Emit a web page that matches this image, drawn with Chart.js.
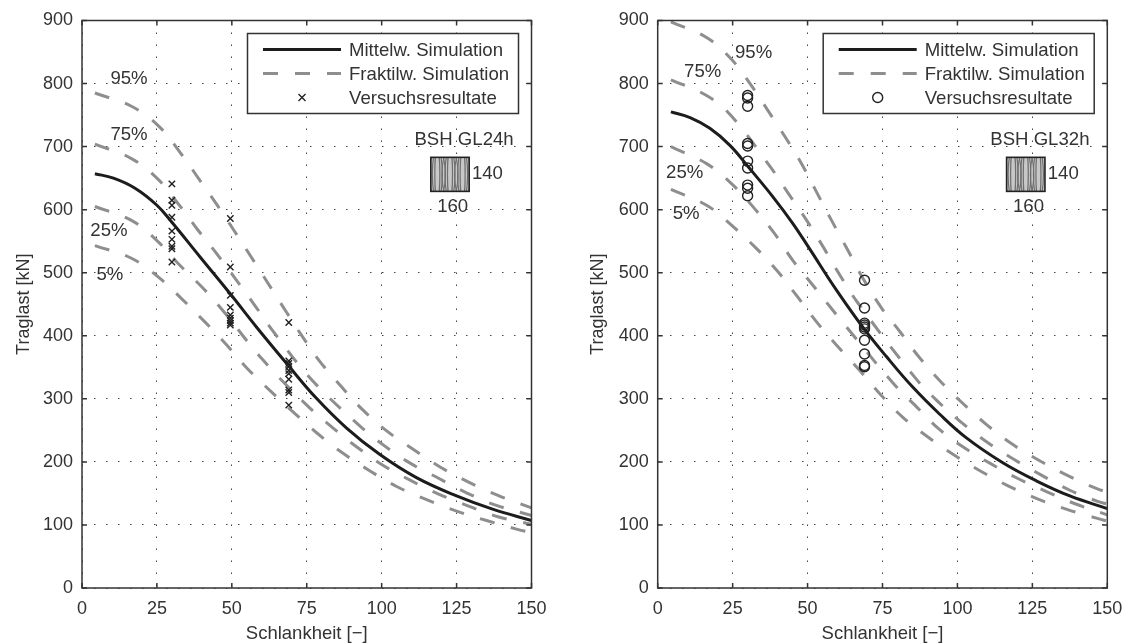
<!DOCTYPE html>
<html>
<head>
<meta charset="utf-8">
<style>
html, body { margin: 0; background: #fff; }
canvas { position: absolute; top: 0; }
</style>
<script src="https://cdn.jsdelivr.net/npm/chart.js@4/dist/chart.umd.js"></script>
</head>
<body>
<canvas id="gl24" width="562" height="643" style="left:0"></canvas>
<canvas id="gl32" width="562" height="643" style="left:562px"></canvas>
<script>
// values, [schlankheit, traglast]
var mean24 = [[4.3,657],[10.5,650],[17.7,634],[25,607],[30,580],[39.4,525],[49.4,467],[58.2,414],[69,352],[78,302],[88.2,254],[99.3,212],[111.6,175],[125,146],[137,125],[150,107]];
var f95_24 = [[4.3,785],[16.5,764],[25.5,733],[32.7,691],[39.4,646],[46,601],[55.5,532],[68.3,437],[73.8,397],[79.4,359],[86.6,319],[93.8,282],[102,248],[110.5,220],[119.5,192],[129,168],[138.8,147],[150,127]];
var f75_24 = [[4.3,704],[16.5,681],[25,650],[32,610],[38.8,567],[45,530],[57.7,448],[63.8,407],[76.5,331],[92.5,258],[100.5,227],[109.5,198],[119,174],[128.3,151],[138.3,131],[150,115]];
var f25_24 = [[4.3,605],[16.5,583],[25,551],[32,515],[40.5,475],[47,440],[60.5,361],[75,290],[83.2,256],[91.6,224],[100,196],[109.5,171],[119,149],[129,130],[138.8,113],[150,101]];
var f05_24 = [[4.3,543],[16.5,523],[25.5,493],[33.2,459],[41,422],[48,387],[55,349],[63.2,311],[70.5,279],[78.6,245],[87,214],[96,186],[105,161],[115,140],[125,122],[135,107],[145.3,93],[150,88]];
var tests24 = [[30,641],[30,615],[30,607],[30,588],[30,566],[30,553],[30,542],[30,538],[30,517],
  [49.5,586],[49.5,509],[49.5,464],[49.5,445],[49.5,433],[49.5,428],[49.5,424],[49.5,420],[49.5,417],
  [69,421],[69,360],[69,356],[69,351],[69,345],[69,340],[69,331],[69,314],[69,310],[69,290]];

var mean32 = [[4.4,755],[10.8,746],[17.4,729],[24.1,702],[30.2,668],[38.5,620],[45.1,578],[50.8,537],[59.7,472],[69,410],[76.3,367],[85,319],[94,276],[103,238],[115,199],[126.3,170],[137.5,146],[150,126]];
var f95_32 = [[4.4,898],[16.3,873],[24.3,840],[30.8,800],[36.8,757],[42.7,714],[48,673],[53.1,627],[58,583],[63.4,536],[68.5,491],[74.7,444],[80.9,406],[86.9,368],[93.9,330],[101.3,295],[109.5,260],[118,229],[127,203],[136.5,179],[146.3,158],[150,152]];
var f75_32 = [[4.4,806],[16.3,781],[24.3,750],[37.4,669],[43.4,627],[49.7,583],[54.7,545],[60.8,496],[66.8,452],[85.8,334],[93,298],[101,264],[109.7,232],[118.5,205],[128,179],[137.5,155],[147,137],[150,133]];
var f25_32 = [[4.4,700],[16.3,673],[24.7,641],[31.9,604],[39,562],[45,520],[51.3,483],[58.5,440],[64.7,404],[78.5,325],[85.8,290],[93.6,253],[101.8,224],[110.8,198],[120,174],[129.7,153],[139,134],[150,116]];
var f05_32 = [[4.4,632],[16.3,607],[24.7,575],[32.4,541],[39.7,504],[46.3,464],[53,422],[59.7,385],[67.4,345],[74.1,308],[81.7,271],[89.7,241],[98.5,212],[107.5,186],[116.9,162],[126.9,141],[137,124],[147,110],[150,106]];
var tests32 = [[30,781],[30,777],[30,764],[30,705],[30,701],[30,677],[30,666],[30,639],[30,634],[30,622],
  [69,488],[69,444],[69,420],[69,417],[69,414],[69,411],[69,393],[69,371],[69,353],[69,351]];

var fractileNames = ['95%', '75%', '25%', '5%'];
var labelPos24 = [[15.7,808],[15.7,719],[9,567],[9.3,497]];
var labelPos32 = [[32,849],[15,819],[9,658],[9.5,594]];
var legendLabels = ['Mittelw. Simulation', 'Fraktilw. Simulation', 'Versuchsresultate'];

var FONT = '18.6px "Liberation Sans"';
var TEXT = '#333333';
var GREY = '#8e8e8e';

function pts(a) {
  return a.map(function (p) { return { x: p[0], y: p[1] }; });
}

function curve(label, values, color, width, dash) {
  return {
    label: label, data: pts(values), showLine: true, borderColor: color, borderWidth: width,
    borderDash: dash, pointRadius: 0, tension: 0.4, fill: false
  };
}

function marker(ctx, style, x, y) {
  ctx.save();
  ctx.strokeStyle = '#222';
  ctx.lineWidth = 1.4;
  ctx.beginPath();
  if (style === 'circle') {
    ctx.arc(x, y, 5, 0, Math.PI * 2);
  } else {
    ctx.moveTo(x - 3.5, y - 3.5); ctx.lineTo(x + 3.5, y + 3.5);
    ctx.moveTo(x + 3.5, y - 3.5); ctx.lineTo(x - 3.5, y + 3.5);
  }
  ctx.stroke();
  ctx.restore();
}

// frame, inward ticks, legend box and the text notes
var decorations = {
  id: 'decorations',
  afterDatasetsDraw: function (chart, args, opts) {
    var ctx = chart.ctx, a = chart.chartArea, sx = chart.scales.x, sy = chart.scales.y;
    ctx.save();
    ctx.strokeStyle = TEXT;
    ctx.lineWidth = 1.5;
    ctx.strokeRect(a.left, a.top, a.right - a.left, a.bottom - a.top);
    ctx.beginPath();
    sx.ticks.forEach(function (t) {
      var x = sx.getPixelForValue(t.value);
      ctx.moveTo(x, a.top); ctx.lineTo(x, a.top + 5);
      ctx.moveTo(x, a.bottom); ctx.lineTo(x, a.bottom - 5);
    });
    sy.ticks.forEach(function (t) {
      var y = sy.getPixelForValue(t.value);
      ctx.moveTo(a.left, y); ctx.lineTo(a.left + 5, y);
      ctx.moveTo(a.right, y); ctx.lineTo(a.right - 5, y);
    });
    ctx.stroke();

    ctx.font = FONT;
    ctx.fillStyle = TEXT;
    ctx.textBaseline = 'middle';
    ctx.textAlign = 'center';
    fractileNames.forEach(function (n, i) {
      ctx.fillText(n, sx.getPixelForValue(opts.labelPos[i][0]), sy.getPixelForValue(opts.labelPos[i][1]));
    });
    ctx.fillText(opts.material, sx.getPixelForValue(127.5), sy.getPixelForValue(710));
    ctx.fillText('140', sx.getPixelForValue(135.3), sy.getPixelForValue(656));
    ctx.fillText('160', sx.getPixelForValue(123.7), sy.getPixelForValue(604));

    // cross section
    var x0 = sx.getPixelForValue(116.4), x1 = sx.getPixelForValue(129.2);
    var y0 = sy.getPixelForValue(683), y1 = sy.getPixelForValue(629);
    var mid = (y0 + y1) / 2, w = x1 - x0;
    ctx.fillStyle = '#c8c8c8';
    ctx.fillRect(x0, y0, w, y1 - y0);
    ctx.save();
    ctx.beginPath();
    ctx.rect(x0, y0, w, y1 - y0);
    ctx.clip();
    ctx.strokeStyle = '#6f6f6f';
    ctx.lineWidth = 1.2;
    [0.17, 0.5, 0.83].forEach(function (c) {
      [2.5, 5, 8].forEach(function (hw) {
        ctx.beginPath();
        ctx.ellipse(x0 + c * w, mid, hw, 26, 0, 0, Math.PI * 2);
        ctx.stroke();
      });
    });
    ctx.restore();
    ctx.strokeStyle = '#222';
    ctx.lineWidth = 1.6;
    ctx.strokeRect(x0, y0, w, y1 - y0);

    // legend
    var lx = a.left + 165.5, ly = 33.5;
    ctx.fillStyle = '#fff';
    ctx.fillRect(lx, ly, 271, 80);
    ctx.strokeStyle = TEXT;
    ctx.lineWidth = 1.5;
    ctx.strokeRect(lx, ly, 271, 80);
    ctx.lineWidth = 3;
    ctx.strokeStyle = '#1c1c1c';
    ctx.beginPath(); ctx.moveTo(lx + 15.5, ly + 16); ctx.lineTo(lx + 93.5, ly + 16); ctx.stroke();
    ctx.strokeStyle = GREY;
    ctx.setLineDash([15, 17]);
    ctx.beginPath(); ctx.moveTo(lx + 15.5, ly + 40); ctx.lineTo(lx + 93.5, ly + 40); ctx.stroke();
    ctx.setLineDash([]);
    marker(ctx, opts.style, lx + 54.5, ly + 64);
    ctx.fillStyle = TEXT;
    ctx.textAlign = 'left';
    legendLabels.forEach(function (t, i) {
      ctx.fillText(t, lx + 101.5, ly + 17 + i * 24);
    });
    ctx.restore();
  }
};

function makeChart(id, yWidth, rightPad, series, tests, opts) {
  var axisFont = { family: 'Liberation Sans', size: 18 };
  var titleFont = { family: 'Liberation Sans', size: 18.5 };
  var grid = { color: '#444444', lineWidth: 1, drawTicks: false };
  var border = { display: false, dash: [1.5, 10.5] };
  var testSet = {
    label: legendLabels[2], data: pts(tests), showLine: false, pointStyle: opts.style === 'circle' ? 'circle' : 'crossRot',
    pointRadius: opts.style === 'circle' ? 5 : 4.5, pointBorderColor: '#222', pointBackgroundColor: 'transparent', pointBorderWidth: 1.4
  };
  return new Chart(document.getElementById(id), {
    type: 'scatter',
    data: {
      datasets: [
        testSet,
        curve(legendLabels[0], series[0], '#1c1c1c', 3, []),
        curve(legendLabels[1], series[1], GREY, 3, [15, 17]),
        curve(legendLabels[1], series[2], GREY, 3, [15, 17]),
        curve(legendLabels[1], series[3], GREY, 3, [15, 17]),
        curve(legendLabels[1], series[4], GREY, 3, [15, 17])
      ]
    },
    plugins: [decorations],
    options: {
      responsive: false,
      animation: false,
      layout: { padding: { top: 20.5, right: rightPad, left: 0, bottom: 0 } },
      plugins: {
        legend: { display: false },
        tooltip: { enabled: false },
        title: { display: false },
        decorations: opts
      },
      scales: {
        x: {
          type: 'linear', min: 0, max: 150,
          afterFit: function (s) { s.height = 55; s.paddingLeft = 0; s.paddingRight = 0; },
          grid: grid, border: border,
          ticks: { stepSize: 25, padding: 10, maxRotation: 0, color: TEXT, font: axisFont },
          title: { display: true, text: 'Schlankheit [\u2212]', color: TEXT, font: titleFont, padding: { top: 0, bottom: -2 } }
        },
        y: {
          type: 'linear', min: 0, max: 900,
          afterFit: function (s) { s.width = yWidth; s.paddingTop = 0; s.paddingBottom = 0; },
          grid: grid, border: border,
          ticks: { stepSize: 100, padding: 9, color: TEXT, font: axisFont },
          title: { display: true, text: 'Traglast [kN]', color: TEXT, font: axisFont, padding: { top: opts.titleTop, bottom: 0 } }
        }
      }
    }
  });
}

makeChart('gl24', 82, 30.5, [mean24, f95_24, f75_24, f25_24, f05_24], tests24,
  { material: 'BSH GL24h', style: 'cross', labelPos: labelPos24, titleTop: 13 });
makeChart('gl32', 95.7, 16.7, [mean32, f95_32, f75_32, f25_32, f05_32], tests32,
  { material: 'BSH GL32h', style: 'circle', labelPos: labelPos32, titleTop: 25.5 });
</script>
</body>
</html>
